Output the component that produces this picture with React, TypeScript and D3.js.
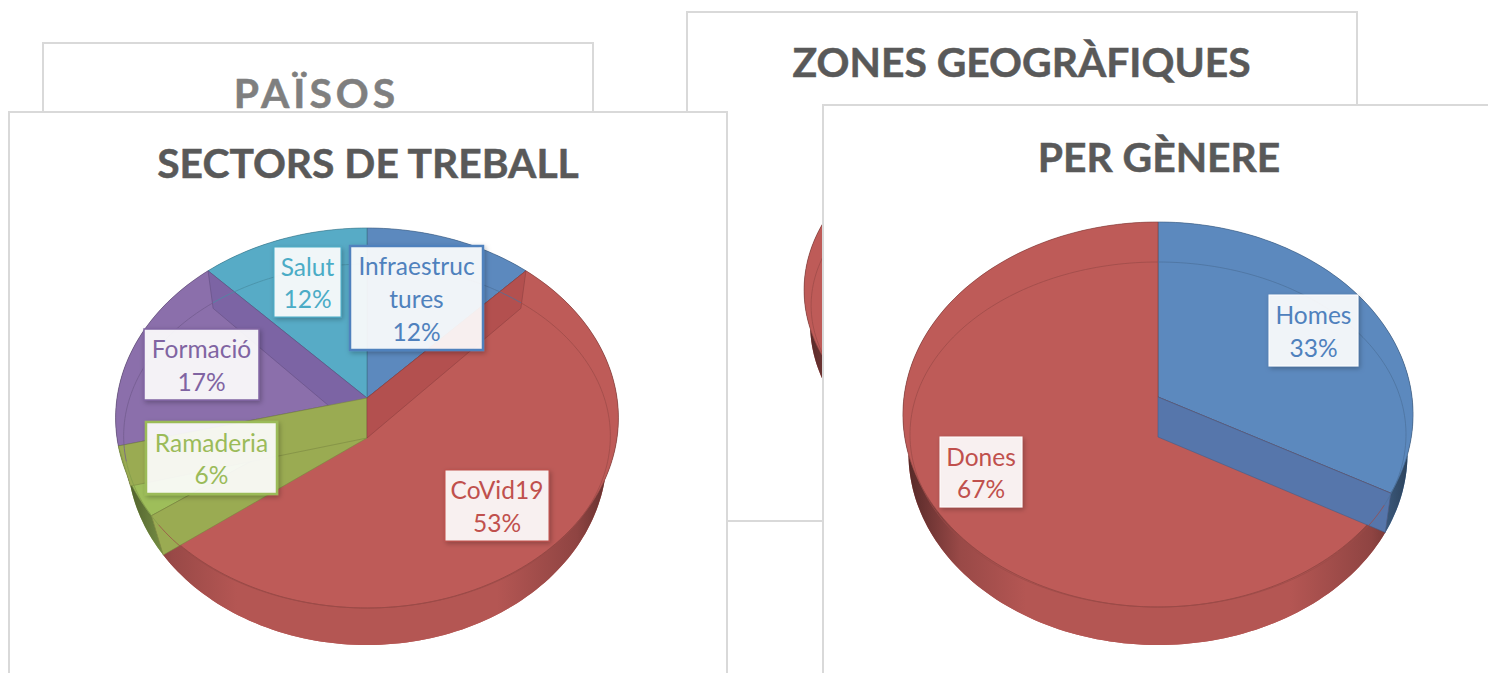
import * as d3 from 'd3';

// sector chart
const sectorNames = ['Infraestructures', 'CoVid19', 'Ramaderia', 'Formació', 'Salut'];
const sectorValues = [12, 53, 6, 17, 12];
const sectorLabelLines = [['Infraestruc', 'tures'], ['CoVid19'], ['Ramaderia'], ['Formació'], ['Salut']];
const sectorColors = ['#5C89BE', '#BE5B58', '#9EBE5A', '#8B6FAB', '#57ABC6'];
const sectorInk = ['#4F81BD', '#C0504D', '#9BBB59', '#8064A2', '#4BACC6'];
const sectorWallColors = ['#5676AB', '#B3504F', '#9AAB52', '#7C64A4', '#4A98B2'];
const sectorWalls = [[], ['start'], ['start', 'end'], ['end'], []];

// gender chart
const genderNames = ['Homes', 'Dones'];
const genderValues = [33, 67];
const genderLabelLines = [['Homes'], ['Dones']];
const genderColors = ['#5C89BE', '#BE5B58'];
const genderInk = ['#4F81BD', '#C0504D'];
const genderWallColors = ['#5676AB', '#B3504F'];
const genderWalls = [['end'], []];

// zones chart: only the red slice shows from behind the gender card
const zoneNames = ['Zones'];
const zoneValues = [100];
const zoneColors = ['#BE5B58'];
const zoneWallColors = ['#B3504F'];

const pie = d3.pie<number>().sort(null).value(d => d);
const line = d3.line();

function project(cx, level, angle, r = 1) {
  const { apex, back, front, rx } = level;
  const k = (front - back) / (front + back);
  const b = back * (1 + k);
  const u = r * Math.sin(angle);
  const v = r * Math.cos(angle);
  const d = 1 + k * v;
  return [cx + rx * u / d, apex - b * v / d];
}

function sweep(a0, a1) {
  const n = Math.max(2, Math.ceil(Math.abs(a1 - a0) * 40));
  return d3.range(n + 1).map(i => a0 + (a1 - a0) * i / n);
}

function Pie3D({ id, geo, values, colors, wallColors, walls, lineColors }) {
  const { cx, top, rim, bottom } = geo;
  const arcs = pie(values);
  const sector = (lv, a) =>
    line([[cx, lv.apex], ...sweep(a.startAngle, a.endAngle).map(t => project(cx, lv, t))]) + 'Z';
  const band = (a) => {
    const pts = sweep(a.startAngle, a.endAngle);
    return line([...pts.map(t => project(cx, top, t)), ...pts.slice().reverse().map(t => project(cx, bottom, t))]) + 'Z';
  };
  const radial = (t) =>
    line([[cx, top.apex], [cx, bottom.apex], project(cx, bottom, t), project(cx, top, t)]) + 'Z';

  return (
    <g>
      <defs>
        {colors.map((c, i) => {
          const col = d3.color(c);
          return (
            <linearGradient key={i} id={`${id}-wall-${i}`} gradientUnits="userSpaceOnUse" x1={cx - top.rx} x2={cx + top.rx} y1={0} y2={0}>
              <stop offset="0" stopColor={col.darker(2.4).formatHex()} />
              <stop offset="0.04" stopColor={col.darker(1.6).formatHex()} />
              <stop offset="0.11" stopColor={col.darker(0.6).formatHex()} />
              <stop offset="0.24" stopColor={col.darker(0.15).formatHex()} />
              <stop offset="0.76" stopColor={col.darker(0.15).formatHex()} />
              <stop offset="0.92" stopColor={col.darker(0.8).formatHex()} />
              <stop offset="1" stopColor={col.darker(2.2).formatHex()} />
            </linearGradient>
          );
        })}
      </defs>
      {arcs.map((a, i) => <path key={i} d={sector(bottom, a)} fill={colors[i]} />)}
      {arcs.map((a, i) => <path key={i} d={band(a)} fill={`url(#${id}-wall-${i})`} />)}
      {arcs.map((a, i) => (
        <path key={i} d={sector(top, a)} fill={colors[i]} stroke={d3.color(colors[i]).darker(1).formatHex()} strokeWidth={0.8} strokeOpacity={0.8} />
      ))}
      {arcs.map((a, i) => walls[i].map(side => ({ a, i, side }))).reverse().flat().map(({ a, i, side }) => (
        <path key={`${i}-${side}`} d={radial(side === 'start' ? a.startAngle : a.endAngle)} fill={wallColors[i]}
          stroke={d3.color(wallColors[i]).darker(0.7).formatHex()} strokeWidth={0.8} strokeOpacity={0.7} />
      ))}
      {arcs.map((a, i) => (
        <path key={i} d={line(sweep(a.startAngle, a.endAngle).map(t => project(cx, rim, t)))} fill="none"
          stroke={d3.color(lineColors[i]).darker(0.55).formatHex()} strokeWidth={1} strokeOpacity={0.75} />
      ))}
    </g>
  );
}

function Card({ x, y, w, h }) {
  return <rect x={x} y={y} width={w} height={h} fill="#fff" stroke="#D9D9D9" strokeWidth={2} />;
}

function Title({ x, y, text, fill = '#595959', spacing = 0 }) {
  return (
    <text x={x} y={y} textAnchor="middle" fill={fill} stroke={fill} strokeWidth={0.5} fontFamily="Lato" fontWeight={700} fontSize={40.8} letterSpacing={spacing}>{text}</text>
  );
}

function DataLabel({ box, lines, value, ink, border }) {
  const all = [...lines, `${value}%`];
  const mid = box.x + box.w / 2;
  const y0 = box.y + box.h / 2 - (all.length - 1) * 16.4 + 10;
  return (
    <g>
      <rect x={box.x} y={box.y} width={box.w} height={box.h} fill="#fff" fillOpacity={0.9} stroke={border} strokeWidth={box.sw} filter="url(#labelShadow)" />
      {all.map((t, i) => (
        <text key={i} x={mid} y={y0 + i * 32.8} textAnchor="middle" fill={ink} fontFamily="Lato" fontSize={24.5}>{t}</text>
      ))}
    </g>
  );
}

const sectorGeo = {
  cx: 367,
  top: { apex: 398, back: 170, front: 210, rx: 250 },
  rim: { apex: 418, back: 154, front: 190, rx: 242 },
  bottom: { apex: 438, back: 174, front: 207, rx: 239 },
};
const genderGeo = {
  cx: 1158,
  top: { apex: 397, back: 175, front: 210, rx: 254 },
  rim: { apex: 419, back: 157, front: 188, rx: 247 },
  bottom: { apex: 437, back: 175, front: 208, rx: 248.6 },
};
const zoneGeo = {
  cx: 1025,
  top: { apex: 275, back: 150, front: 180, rx: 220 },
  rim: { apex: 292, back: 135, front: 162, rx: 213 },
  bottom: { apex: 309, back: 150, front: 180, rx: 214 },
};

const sectorBoxes = [
  { x: 350, y: 246, w: 133, h: 104, sw: 2.5 },
  { x: 445, y: 470, w: 104, h: 71, sw: 1 },
  { x: 146, y: 422, w: 131, h: 72, sw: 2.5 },
  { x: 144, y: 329, w: 115, h: 71, sw: 1.5 },
  { x: 274, y: 247, w: 67, h: 70, sw: 1 },
];
const genderBoxes = [
  { x: 1269, y: 295, w: 89, h: 71, sw: 1 },
  { x: 940, y: 437, w: 82, h: 70, sw: 1 },
];

export default function App() {
  return (
    <svg width={1488} height={673} style={{ position: 'fixed', left: 0, top: 0 }}>
      <defs>
        <filter id="labelShadow" x="-20%" y="-20%" width="140%" height="140%">
          <feDropShadow dx={1.5} dy={2} stdDeviation={2.5} floodColor="#000" floodOpacity={0.28} />
        </filter>
      </defs>
      <rect width={1488} height={673} fill="#fff" />

      <Card x={43} y={43} w={550} h={400} />
      <Title x={316.5} y={108} text="PAÏSOS" fill="#7F7F7F" spacing={4} />

      <Card x={687} y={12} w={670} h={509} />
      <Title x={1021.5} y={76.5} text="ZONES GEOGRÀFIQUES" />
      <Pie3D id="zones" geo={zoneGeo} values={zoneValues} colors={zoneColors} wallColors={zoneWallColors}
        walls={zoneNames.map(() => [])} lineColors={zoneColors} />

      <Card x={9} y={112} w={718} h={600} />
      <Title x={368} y={177.5} text="SECTORS DE TREBALL" />
      <Pie3D id="sectors" geo={sectorGeo} values={sectorValues} colors={sectorColors} wallColors={sectorWallColors}
        walls={sectorWalls} lineColors={sectorColors} />
      {sectorNames.map((n, i) => (
        <DataLabel key={n} box={sectorBoxes[i]} lines={sectorLabelLines[i]} value={sectorValues[i]} ink={sectorInk[i]} border={sectorInk[i]} />
      ))}

      <Card x={823} y={105} w={700} h={600} />
      <Title x={1159} y={171.5} text="PER GÈNERE" />
      <Pie3D id="gender" geo={genderGeo} values={genderValues} colors={genderColors} wallColors={genderWallColors}
        walls={genderWalls} lineColors={genderColors} />
      {genderNames.map((n, i) => (
        <DataLabel key={n} box={genderBoxes[i]} lines={genderLabelLines[i]} value={genderValues[i]} ink={genderInk[i]} border="#fff" />
      ))}
    </svg>
  );
}
